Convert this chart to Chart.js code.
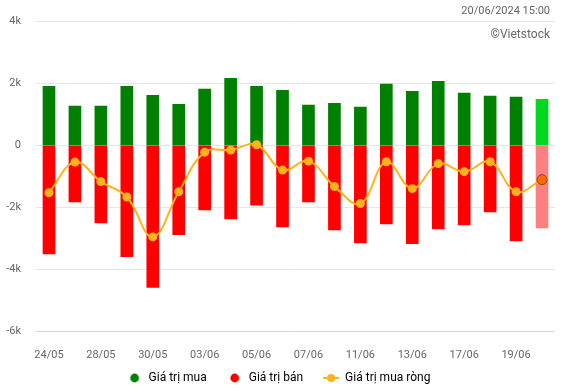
<!DOCTYPE html>
<html>
<head>
<meta charset="utf-8">
<script src="https://cdn.jsdelivr.net/npm/chart.js@4.4.1/dist/chart.umd.min.js"></script>
<style>
  body { margin: 0; background: #fff; }
  #wrap { position: relative; width: 564px; height: 390px; font-family: Roboto, sans-serif; }
  .note { position: absolute; right: 14px; color: #666; white-space: nowrap; }
</style>
</head>
<body>
<div id="wrap">
  <canvas id="myChart" width="564" height="390"></canvas>
  <div class="note" style="top:4px;font-size:11px;">20/06/2024 15:00</div>
  <div class="note" style="top:27px;font-size:12px;">©Vietstock</div>
</div>
<script>
// phien giao dich (ngay/thang)
const days = ["24/05", "27/05", "28/05", "29/05", "30/05", "31/05", "03/06", "04/06", "05/06", "06/06",
  "07/06", "10/06", "11/06", "12/06", "13/06", "14/06", "17/06", "18/06", "19/06", "20/06"];
// ty dong
const buyValues = [1910, 1270, 1270, 1910, 1620, 1330, 1820, 2170, 1910, 1780,
  1300, 1360, 1240, 1980, 1750, 2070, 1690, 1590, 1560, 1490];
const sellValues = [-3510, -1830, -2510, -3600, -4590, -2890, -2090, -2380, -1930, -2640,
  -1830, -2730, -3150, -2540, -3180, -2700, -2570, -2150, -3090, -2670];
const netValues = [-1530, -540, -1170, -1670, -2960, -1500, -220, -150, 20, -800,
  -510, -1330, -1880, -530, -1400, -590, -850, -530, -1500, -1110];
const yTicks = [-6000, -4000, -2000, 0, 2000, 4000];

const last = days.length - 1;

// legend markers: 30px wide, empty on the left so items sit apart
function dotMark(color) {
  const c = document.createElement("canvas");
  c.width = 30;
  c.height = 10;
  const g = c.getContext("2d");
  g.fillStyle = color;
  g.beginPath();
  g.arc(22, 5, 4.4, 0, Math.PI * 2);
  g.fill();
  return c;
}
function lineMark(color) {
  const c = document.createElement("canvas");
  c.width = 30;
  c.height = 10;
  const g = c.getContext("2d");
  g.strokeStyle = color;
  g.lineWidth = 2;
  g.beginPath();
  g.moveTo(14, 5);
  g.lineTo(30, 5);
  g.stroke();
  g.fillStyle = color;
  g.beginPath();
  g.arc(22, 5, 4, 0, Math.PI * 2);
  g.fill();
  return c;
}

// short legend band, nudged a bit to the left
const legendFix = {
  id: "legendFix",
  beforeLayout(chart) {
    const lg = chart.legend;
    if (lg && !lg._fixed) {
      const fit = lg.fit;
      lg.fit = function () {
        fit.call(this);
        this.height = 24;
        if (this.lineWidths) this.lineWidths[0] += 12;
      };
      lg._fixed = true;
    }
  },
};

Chart.defaults.font.family = "Roboto, sans-serif";

const ctx = document.getElementById("myChart").getContext("2d");
new Chart(ctx, {
  data: {
    labels: days,
    datasets: [
      {
        type: "line",
        label: "Giá trị mua ròng",
        data: netValues,
        borderColor: "#ffb31a",
        borderWidth: 2,
        tension: 0.4,
        pointRadius: (c) => (c.dataIndex === last ? 5 : 4.5),
        pointBackgroundColor: (c) => (c.dataIndex === last ? "#ff6a00" : "#ffb31a"),
        pointBorderColor: (c) => (c.dataIndex === last ? "#8a4a1a" : "#ffb31a"),
        pointBorderWidth: (c) => (c.dataIndex === last ? 1 : 0),
        order: 0,
      },
      {
        type: "bar",
        label: "Giá trị mua",
        data: buyValues,
        backgroundColor: (c) => (c.dataIndex === last ? "#00d81f" : "#008000"),
        barThickness: 12,
        grouped: false,
        order: 1,
      },
      {
        type: "bar",
        label: "Giá trị bán",
        data: sellValues,
        backgroundColor: (c) => (c.dataIndex === last ? "#ff8080" : "#ff0000"),
        barThickness: 12,
        grouped: false,
        order: 1,
      },
    ],
  },
  plugins: [legendFix],
  options: {
    responsive: false,
    animation: false,
    layout: { padding: { top: 20, right: 9, bottom: 0, left: 0 } },
    plugins: {
      tooltip: { enabled: false },
      legend: {
        position: "bottom",
        labels: {
          color: "#333",
          font: { size: 12 },
          padding: 6,
          usePointStyle: true,
          pointStyleWidth: 30,
          boxHeight: 6,
          generateLabels: () => [
            { text: "Giá trị mua", fillStyle: "#008000", strokeStyle: "#008000", lineWidth: 0, pointStyle: dotMark("#008000"), datasetIndex: 1 },
            { text: "Giá trị bán", fillStyle: "#ff0000", strokeStyle: "#ff0000", lineWidth: 0, pointStyle: dotMark("#ff0000"), datasetIndex: 2 },
            { text: "Giá trị mua ròng", fillStyle: "#ffb31a", strokeStyle: "#ffb31a", lineWidth: 0, pointStyle: lineMark("#ffb31a"), datasetIndex: 0 },
          ],
        },
      },
    },
    scales: {
      x: {
        afterFit: (axis) => { axis.height = 35; },
        grid: { display: false, drawTicks: false },
        border: { display: false },
        ticks: {
          color: "#666",
          font: { size: 11 },
          padding: 18,
          autoSkip: false,
          maxRotation: 0,
          callback: (v, i) => (i % 2 === 0 ? days[i] : ""),
        },
      },
      y: {
        min: -6000,
        max: 4000,
        afterBuildTicks: (axis) => { axis.ticks = yTicks.map((v) => ({ value: v })); },
        afterFit: (axis) => { axis.width = 36; },
        grid: {
          color: (c) => (c.tick && c.tick.value === -6000 ? "#ccd6eb" : "#e6e6e6"),
          drawTicks: false,
        },
        border: { display: false },
        ticks: {
          color: "#666",
          font: { size: 11 },
          padding: 15,
          callback: (v) => (v === 0 ? "0" : v / 1000 + "k"),
        },
      },
    },
  },
});
</script>
</body>
</html>
